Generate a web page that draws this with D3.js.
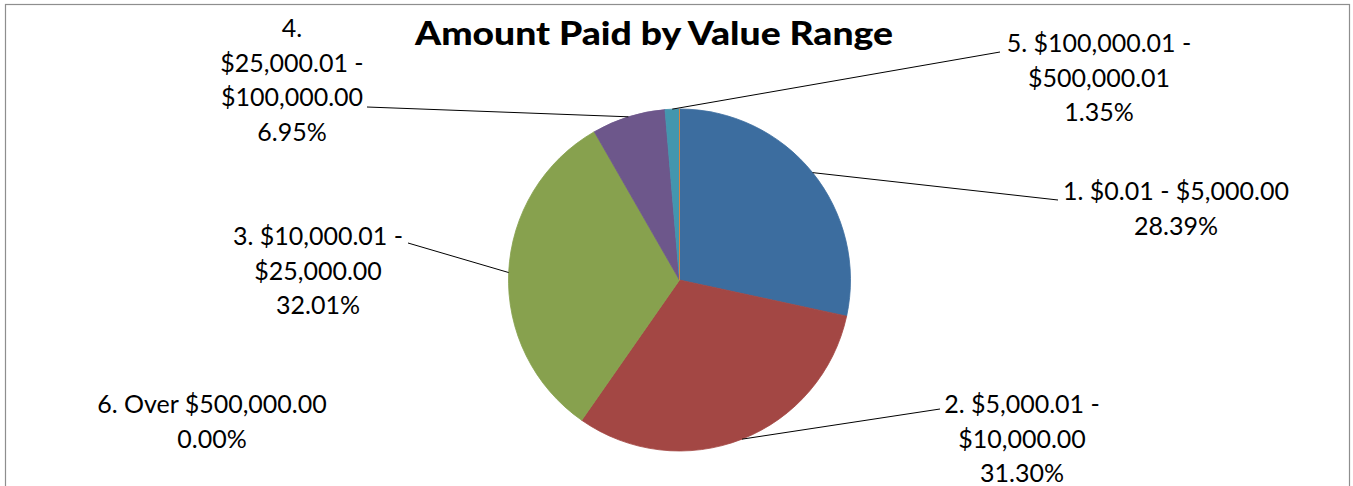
<!DOCTYPE html>
<html>
<head>
<meta charset="utf-8">
<script src="https://cdn.jsdelivr.net/npm/d3@7"></script>
<style>
  html, body { margin: 0; padding: 0; background: #fff; }
  svg { display: block; font-family: Lato, "Open Sans", sans-serif; }
</style>
</head>
<body>
<div id="chart-area"></div>
<script>
const categories = [
    "1. $0.01 - $5,000.00",
    "2. $5,000.01 - $10,000.00",
    "3. $10,000.01 - $25,000.00",
    "4. $25,000.01 - $100,000.00",
    "5. $100,000.01 - $500,000.01",
    "6. Over $500,000.00"
];
const percentValues = [28.39, 31.30, 32.01, 6.95, 1.35, 0.00];
// how Excel wrapped each label
const labelLines = [
    ["1. $0.01 - $5,000.00", "28.39%"],
    ["2. $5,000.01 -", "$10,000.00", "31.30%"],
    ["3. $10,000.01 -", "$25,000.00", "32.01%"],
    ["4.", "$25,000.01 -", "$100,000.00", "6.95%"],
    ["5. $100,000.01 -", "$500,000.01", "1.35%"],
    ["6. Over $500,000.00", "0.00%"]
];
const sliceColors = ["#3c6d9f", "#a34744", "#87a14e", "#6d578b", "#4396ae", "#db843d"];

function renderPie() {
    const svgWidth = 1353;
    const svgHeight = 486;
    const cx = 679.5, cy = 280, radius = 171;
    const lineGap = 34.5;

    // label block placement: centre x, first baseline, leader end point
    const labelLayout = [
        { x: 1176, y: 200, lx: 1058, ly: 200 },
        { x: 1022, y: 413, lx: 940, ly: 409 },
        { x: 318, y: 245, lx: 408, ly: 243 },
        { x: 292, y: 37, lx: 367, ly: 107 },
        { x: 1099, y: 52, lx: 1000, ly: 52 },
        { x: 212, y: 413, lx: null, ly: null }
    ];

    const svg = d3.select("#chart-area")
        .append("svg")
        .attr("width", svgWidth)
        .attr("height", svgHeight);

    // chart frame
    svg.append("rect")
        .attr("x", 5.5)
        .attr("y", 4.5)
        .attr("width", 1344)
        .attr("height", 520)
        .attr("fill", "none")
        .attr("stroke", "#8e8e8e")
        .attr("stroke-width", 1.2);

    svg.append("text")
        .attr("x", 654)
        .attr("y", 45)
        .attr("text-anchor", "middle")
        .attr("textLength", 478)
        .attr("lengthAdjust", "spacingAndGlyphs")
        .style("font-size", "32px")
        .style("font-weight", "900")
        .attr("fill", "#000")
        .text("Amount Paid by Value Range");

    const pie = d3.pie()
        .sort(null)
        .value(d => d);

    const arcs = pie(percentValues);

    const arc = d3.arc()
        .innerRadius(0)
        .outerRadius(radius);

    const pieGroup = svg.append("g")
        .attr("transform", `translate(${cx},${cy})`);

    pieGroup.selectAll("path.slice")
        .data(arcs)
        .join("path")
        .attr("class", "slice")
        .attr("d", arc)
        .attr("fill", (d, i) => sliceColors[i])
        .attr("stroke", (d, i) => sliceColors[i])
        .attr("stroke-width", 0.8);

    // leader lines from the arc midpoint on the rim
    arcs.forEach((d, i) => {
        const lay = labelLayout[i];
        if (lay.lx === null) return;
        const mid = (d.startAngle + d.endAngle) / 2;
        const px = cx + radius * Math.sin(mid);
        const py = cy - radius * Math.cos(mid);
        svg.append("line")
            .attr("x1", px)
            .attr("y1", py)
            .attr("x2", lay.lx)
            .attr("y2", lay.ly)
            .attr("stroke", "#000")
            .attr("stroke-width", 1);
    });

    labelLines.forEach((lines, i) => {
        const lay = labelLayout[i];
        const t = svg.append("text")
            .attr("class", "slice-label")
            .attr("text-anchor", "middle")
            .style("font-size", "25px")
            .attr("fill", "#000");
        t.selectAll("tspan")
            .data(lines)
            .join("tspan")
            .attr("x", lay.x)
            .attr("y", (d, k) => lay.y + k * lineGap)
            .text(d => d);
    });
}

renderPie();
</script>
</body>
</html>
